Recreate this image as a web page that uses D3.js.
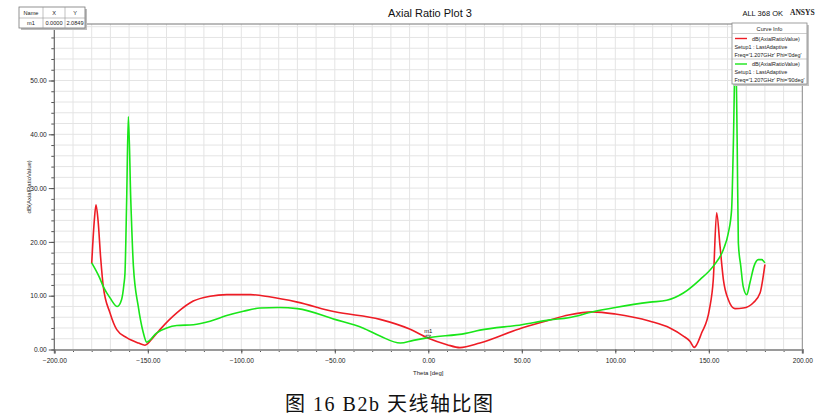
<!DOCTYPE html>
<html><head><meta charset="utf-8">
<script src="https://cdn.jsdelivr.net/npm/d3@7"></script>
<style>body{margin:0;background:#fff;} svg{display:block;}</style>
</head><body>
<svg id="c" width="827" height="418"></svg>
<script>
// ---- data ----
const redTheta = [-180,-178.6,-177.7,-176.6,-175.2,-173.8,-170.2,-166.6,-161.3,-155,-151.5,-147,-143.5,-134.5,-125.7,-116.7,-107.8,-95,-85,-70,-50,-25.8,-10,0,10,16.9,27.6,50,65,75,88,100,118.6,129.2,136.4,140,142.2,146.2,150.3,152.4,154.2,156,157.8,160.4,164,168.4,173.8,177.4,180];
const redVal   = [16.0,24.0,26.9,24.0,17.0,11.7,6.8,3.7,2.2,1.2,0.8,2.3,3.7,6.8,9.0,9.9,10.2,10.2,9.8,8.8,7.0,5.6,3.8,2.08,0.9,0.35,1.2,4.0,5.5,6.4,7.0,6.6,5.25,4.0,2.5,1.5,0.4,3.1,7.4,13.0,25.4,19.2,13.0,9.3,7.6,7.7,8.7,10.5,15.8];
const greenTheta = [-180,-176,-173.8,-170.2,-166.3,-164,-162.8,-162.2,-161.3,-160.4,-159.1,-157.7,-155.1,-152.4,-150.6,-145.2,-139.9,-134.5,-125.6,-116.7,-107.8,-98.9,-90,-80,-70,-50,-35,-25.8,-15,-8,0,20,27.6,50,65,75,88,100,118.6,127.5,136.4,145.3,152.4,157.8,160.4,162.2,163.1,164.3,165.2,165.8,167.1,168.4,170.3,172,174.2,176.5,178.3,180];
const greenVal   = [16.1,13.5,11.7,9.6,8.0,9.3,12.0,14.2,27.8,43.3,27.8,15.5,8.0,3.1,1.36,3.1,4.0,4.45,4.6,5.25,6.3,7.1,7.7,7.8,7.6,5.6,4.0,2.5,1.2,1.7,2.2,3.0,3.6,4.6,5.5,5.9,7.0,7.8,8.8,9.15,10.5,13.0,15.5,18.6,21.6,26.0,37.7,57.0,37.7,19.8,15.5,11.7,10.2,12.4,15.5,16.7,16.7,16.1];
const xTicks = [-200,-150,-100,-50,0,50,100,150,200];
const yTicks = [0,10,20,30,40,50];
const legendLines = [
  ["dB(AxialRatioValue)","Setup1 : LastAdaptive","Freq='1.207GHz' Phi='0deg'"],
  ["dB(AxialRatioValue)","Setup1 : LastAdaptive","Freq='1.207GHz' Phi='90deg'"]
];
const seriesColors = ["#ee1c25","#19e619"];
const markerTable = [["Name","X","Y"],["m1","0.0000","2.0849"]];

// ---- layout ----
const svg = d3.select("#c");
const L = 54.3, R = 802.3, T = 24, B = 349.5;
const x = d3.scaleLinear().domain([-200,200]).range([L,R]);
const y = d3.scaleLinear().domain([0,50]).range([B,80.5]);
const yTop = y.invert(T);
const font = "'Liberation Sans', Arial, sans-serif";

// grid
const g = svg.append("g");
g.selectAll("line.vg").data(d3.range(-190,200,10)).join("line")
  .attr("x1",d=>x(d)).attr("x2",d=>x(d)).attr("y1",T).attr("y2",B)
  .attr("stroke","#e4e4e4").attr("stroke-width",1);
g.selectAll("line.hg").data(d3.range(2,yTop,2)).join("line")
  .attr("x1",L).attr("x2",R).attr("y1",d=>y(d)).attr("y2",d=>y(d))
  .attr("stroke","#e4e4e4").attr("stroke-width",1);

// frame
svg.append("line").attr("x1",L).attr("x2",R).attr("y1",T).attr("y2",T).attr("stroke","#777");
svg.append("line").attr("x1",R).attr("x2",R).attr("y1",T).attr("y2",B).attr("stroke","#888");

// curves
const clip = svg.append("clipPath").attr("id","pc").append("rect").attr("x",L).attr("y",T).attr("width",R-L).attr("height",B-T);
const line = d3.line().x(d=>x(d[0])).y(d=>y(d[1])).curve(d3.curveMonotoneX);
const red = redTheta.map((t,i)=>[t,redVal[i]]);
const green = greenTheta.map((t,i)=>[t,greenVal[i]]);
svg.append("path").datum(red).attr("d",line).attr("fill","none").attr("stroke",seriesColors[0]).attr("stroke-width",1.6).attr("clip-path","url(#pc)");
svg.append("path").datum(green).attr("d",line).attr("fill","none").attr("stroke",seriesColors[1]).attr("stroke-width",1.6).attr("clip-path","url(#pc)");

// axes
const fmt = d3.format(".2f");
const xa = svg.append("g").attr("transform",`translate(0,${B})`);
xa.call(d3.axisBottom(x).tickValues(d3.range(-200,201,10)).tickSize(2.5).tickFormat(""));
xa.call(g2=>g2.selectAll(".domain").remove());
const xb = svg.append("g").attr("transform",`translate(0,${B})`)
  .call(d3.axisBottom(x).tickValues(xTicks).tickSize(4).tickFormat(fmt).tickPadding(5));
xb.select(".domain").attr("stroke","#9a9a9a").attr("stroke-width",2.2);
svg.selectAll(".tick line").attr("stroke","#555");
xb.selectAll("text").attr("font-family",font).attr("font-size",6.6).attr("fill","#222");

const ya = svg.append("g").attr("transform",`translate(${L},0)`);
ya.call(d3.axisLeft(y).tickValues(d3.range(0,yTop,2)).tickSize(3).tickFormat(""));
ya.select(".domain").remove();
const yb = svg.append("g").attr("transform",`translate(${L},0)`)
  .call(d3.axisLeft(y).tickValues(yTicks).tickSize(5.5).tickFormat(fmt).tickPadding(2));
yb.select(".domain").attr("d",`M0,${T}V${B}`).attr("stroke","#666").attr("stroke-width",1.2);
svg.selectAll(".tick line").attr("stroke","#555");
yb.selectAll("text").attr("font-family",font).attr("font-size",6.6).attr("fill","#222");

// axis labels
svg.append("text").attr("x",x(0)).attr("y",375).attr("text-anchor","middle")
  .attr("font-family",font).attr("font-size",6).attr("fill","#222").text("Theta [deg]");
svg.append("text").attr("transform",`translate(31,${(T+B)/2}) rotate(-90)`).attr("text-anchor","middle")
  .attr("font-family",font).attr("font-size",6).attr("fill","#222").text("dB(AxialRatioValue)");

// title
svg.append("text").attr("x",430).attr("y",17).attr("text-anchor","middle")
  .attr("font-family",font).attr("font-size",11).attr("fill","#111").text("Axial Ratio Plot 3");
svg.append("text").attr("x",783).attr("y",16).attr("text-anchor","end")
  .attr("font-family",font).attr("font-size",7.5).attr("fill","#111").text("ALL 368 OK");
svg.append("text").attr("x",790).attr("y",15).attr("text-anchor","start")
  .attr("font-family","'Liberation Serif', serif").attr("font-weight","bold").attr("font-size",7.5).attr("fill","#222").text("ANSYS");

// marker
const mx = x(0), my = y(2.0849);
svg.append("path").attr("d",`M${mx-2.5},${my-3}L${mx+2.5},${my-3}L${mx},${my}Z`).attr("fill","none").attr("stroke","#444").attr("stroke-width",0.7);
svg.append("text").attr("x",mx).attr("y",my-5).attr("text-anchor","middle")
  .attr("font-family",font).attr("font-size",6).attr("fill","#222").text("m1");

// marker table
const tb = svg.append("g");
const colX = [19,43,65,85], rowY = [7,18,28];
tb.append("rect").attr("x",21).attr("y",9).attr("width",66).attr("height",21).attr("fill","#bdbdbd");
tb.append("rect").attr("x",19).attr("y",7).attr("width",66).attr("height",21).attr("fill","#fff").attr("stroke","#777").attr("stroke-width",0.8);
tb.append("line").attr("x1",19).attr("x2",85).attr("y1",18).attr("y2",18).attr("stroke","#999").attr("stroke-width",0.6);
[43,65].forEach(cx=>tb.append("line").attr("x1",cx).attr("x2",cx).attr("y1",7).attr("y2",28).attr("stroke","#999").attr("stroke-width",0.6));
markerTable.forEach((row,ri)=>row.forEach((txt,ci)=>{
  tb.append("text").attr("x",(colX[ci]+colX[ci+1])/2).attr("y",(rowY[ri]+rowY[ri+1])/2+2)
    .attr("text-anchor","middle").attr("font-family",font).attr("font-size",5.6).attr("fill","#222").text(txt);
}));

// legend
const lg = svg.append("g");
lg.append("rect").attr("x",734).attr("y",25).attr("width",75).attr("height",61).attr("fill","#c4c4c4");
lg.append("rect").attr("x",732).attr("y",23).attr("width",75).attr("height",61).attr("fill","#fff").attr("stroke","#888").attr("stroke-width",0.8);
lg.append("text").attr("x",769.5).attr("y",31).attr("text-anchor","middle").attr("font-family",font).attr("font-size",5.6).attr("fill","#222").text("Curve Info");
lg.append("line").attr("x1",732).attr("x2",807).attr("y1",33.5).attr("y2",33.5).attr("stroke","#aaa").attr("stroke-width",0.6);
legendLines.forEach((ls,i)=>{
  const oy = 33.5 + i*25.5;
  if(i>0) lg.append("line").attr("x1",732).attr("x2",807).attr("y1",oy).attr("y2",oy).attr("stroke","#aaa").attr("stroke-width",0.6);
  lg.append("line").attr("x1",735).attr("x2",747).attr("y1",oy+5).attr("y2",oy+5).attr("stroke",seriesColors[i]).attr("stroke-width",1.4);
  lg.append("text").attr("x",752).attr("y",oy+7).attr("font-family",font).attr("font-size",5.4).attr("fill","#222").text(ls[0]);
  lg.append("text").attr("x",734.5).attr("y",oy+15).attr("font-family",font).attr("font-size",5.4).attr("fill","#222").text(ls[1]);
  lg.append("text").attr("x",734.5).attr("y",oy+23).attr("font-family",font).attr("font-size",5.4).attr("fill","#222").text(ls[2]);
});

// caption
svg.append("text").attr("x",285).attr("y",411).attr("textLength",208).attr("lengthAdjust","spacing")
  .attr("font-family","'Liberation Serif','Noto Sans CJK SC',serif").attr("font-size",20).attr("fill","#111")
  .text("图 16 B2b 天线轴比图");
</script>
</body></html>
